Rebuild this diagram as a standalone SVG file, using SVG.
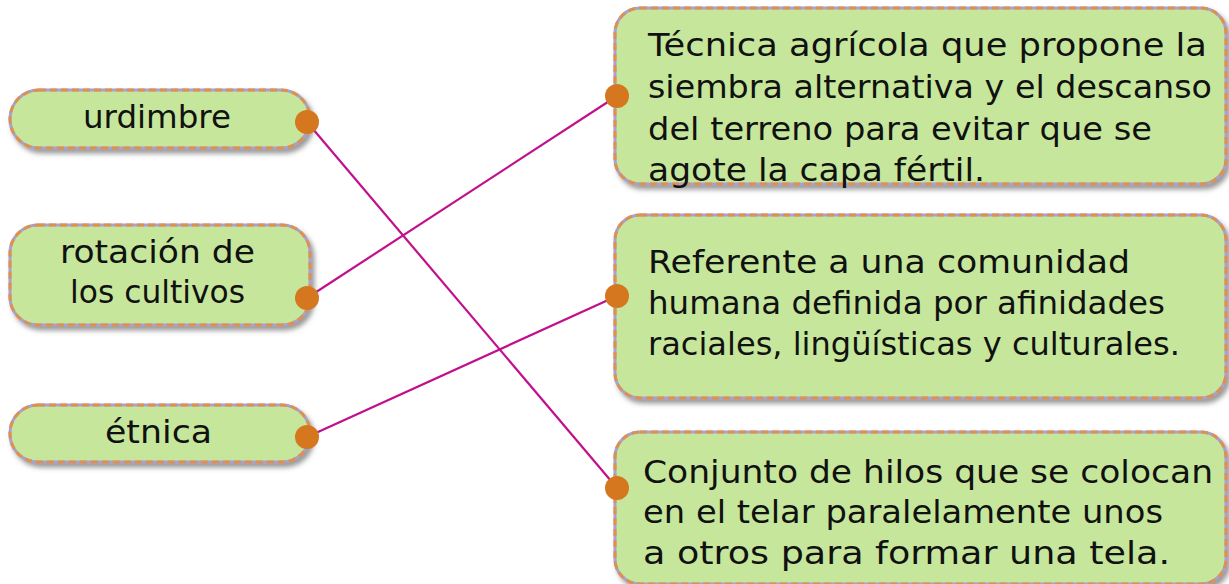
<svg xmlns="http://www.w3.org/2000/svg" width="1229" height="584" viewBox="0 0 1229 584">
<defs>
<filter id="sh" x="-10%" y="-10%" width="125%" height="130%">
<feDropShadow dx="3" dy="4" stdDeviation="2.5" flood-color="#555" flood-opacity="0.6"/>
</filter>
</defs>
<style>
.box{fill:#c6e79b;stroke:#a3a2d4;stroke-width:3;filter:url(#sh)}
.dash{fill:none;stroke:#e0904e;stroke-width:3;stroke-dasharray:7 4}
.t{font-family:"DejaVu Sans","Liberation Sans",sans-serif;font-size:32.5px;fill:#111}
.dot{fill:#d4771f}
.ln{stroke:#c0108c;stroke-width:2.2;fill:none}
</style>
<rect width="1229" height="584" fill="#fff"/>
<g id="connectors">
<line class="ln" x1="307" y1="122" x2="617" y2="488"/>
<line class="ln" x1="307" y1="298" x2="617" y2="96"/>
<line class="ln" x1="307" y1="437" x2="617" y2="296"/>
</g>
<g id="n-urdimbre">
<rect class="box" x="10" y="90" width="300" height="58" rx="29"/>
<rect class="dash" x="10" y="90" width="300" height="58" rx="29"/>
<text class="t" x="83" y="128" textLength="148" lengthAdjust="spacingAndGlyphs">urdimbre</text>
<circle class="dot" cx="307" cy="122" r="12"/>
</g>
<g id="n-rotacion">
<rect class="box" x="10" y="225" width="300" height="100" rx="28"/>
<rect class="dash" x="10" y="225" width="300" height="100" rx="28"/>
<text class="t" x="60" y="263" textLength="195" lengthAdjust="spacingAndGlyphs">rotación de</text>
<text class="t" x="70" y="303" textLength="175" lengthAdjust="spacingAndGlyphs">los cultivos</text>
<circle class="dot" cx="307" cy="298" r="12"/>
</g>
<g id="n-etnica">
<rect class="box" x="10" y="405" width="300" height="57" rx="28"/>
<rect class="dash" x="10" y="405" width="300" height="57" rx="28"/>
<text class="t" x="105" y="443" textLength="107" lengthAdjust="spacingAndGlyphs">étnica</text>
<circle class="dot" cx="307" cy="437" r="12"/>
</g>
<g id="n-tecnica">
<rect class="box" x="615" y="8" width="611" height="176" rx="25"/>
<rect class="dash" x="615" y="8" width="611" height="176" rx="25"/>
<text class="t" x="648" y="56" textLength="559" lengthAdjust="spacingAndGlyphs">Técnica agrícola que propone la</text>
<text class="t" x="648" y="98" textLength="564" lengthAdjust="spacingAndGlyphs">siembra alternativa y el descanso</text>
<text class="t" x="648" y="140" textLength="504" lengthAdjust="spacingAndGlyphs">del terreno para evitar que se</text>
<text class="t" x="648" y="181" textLength="337" lengthAdjust="spacingAndGlyphs">agote la capa fértil.</text>
<circle class="dot" cx="617" cy="96" r="12"/>
</g>
<g id="n-referente">
<rect class="box" x="615" y="215" width="611" height="183" rx="25"/>
<rect class="dash" x="615" y="215" width="611" height="183" rx="25"/>
<text class="t" x="648" y="273" textLength="482" lengthAdjust="spacingAndGlyphs">Referente a una comunidad</text>
<text class="t" x="648" y="314" textLength="517" lengthAdjust="spacingAndGlyphs">humana definida por afinidades</text>
<text class="t" x="648" y="355" textLength="532" lengthAdjust="spacingAndGlyphs">raciales, lingüísticas y culturales.</text>
<circle class="dot" cx="617" cy="296" r="12"/>
</g>
<g id="n-conjunto">
<rect class="box" x="615" y="432" width="611" height="152" rx="25"/>
<rect class="dash" x="615" y="432" width="611" height="152" rx="25"/>
<text class="t" x="643" y="483" textLength="570" lengthAdjust="spacingAndGlyphs">Conjunto de hilos que se colocan</text>
<text class="t" x="643" y="523" textLength="520" lengthAdjust="spacingAndGlyphs">en el telar paralelamente unos</text>
<text class="t" x="643" y="564" textLength="527" lengthAdjust="spacingAndGlyphs">a otros para formar una tela.</text>
<circle class="dot" cx="617" cy="488" r="12"/>
</g>
</svg>
